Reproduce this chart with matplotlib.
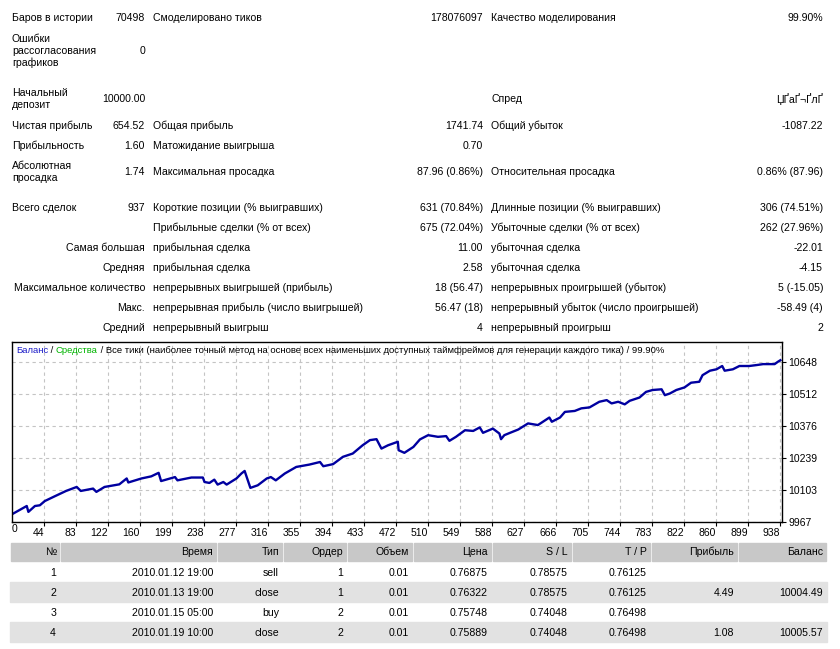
import numpy as np
import matplotlib.pyplot as plt
from matplotlib.patches import Rectangle

plt.rcParams['font.family'] = ['Liberation Sans', 'DejaVu Sans']

# ---- summary block ----
row_y = [18, 51, 99, 126, 146, 172, 208, 228, 248, 268, 288, 308, 328]

col1_labels = ["Баров в истории", "Ошибки\nрассогласования\nграфиков", "Начальный\nдепозит",
               "Чистая прибыль", "Прибыльность", "Абсолютная\nпросадка", "Всего сделок", "",
               "Самая большая", "Средняя", "Максимальное количество", "Макс.", "Средний"]
col1_values = ["70498", "0", "10000.00", "654.52", "1.60", "1.74", "937", "", "", "", "", "", ""]
col2_labels = ["Смоделировано тиков", "", "", "Общая прибыль", "Матожидание выигрыша",
               "Максимальная просадка", "Короткие позиции (% выигравших)",
               "Прибыльные сделки (% от всех)", "прибыльная сделка", "прибыльная сделка",
               "непрерывных выигрышей (прибыль)", "непрерывная прибыль (число выигрышей)",
               "непрерывный выигрыш"]
col2_values = ["178076097", "", "", "1741.74", "0.70", "87.96 (0.86%)", "631 (70.84%)",
               "675 (72.04%)", "11.00", "2.58", "18 (56.47)", "56.47 (18)", "4"]
col3_labels = ["Качество моделирования", "", "Спред", "Общий убыток", "",
               "Относительная просадка", "Длинные позиции (% выигравших)",
               "Убыточные сделки (% от всех)", "убыточная сделка", "убыточная сделка",
               "непрерывных проигрышей (убыток)", "непрерывный убыток (число проигрышей)",
               "непрерывный проигрыш"]
col3_values = ["99.90%", "", "ЏҐаҐ¬ҐлҐ", "-1087.22", "", "0.86% (87.96)", "306 (74.51%)",
               "262 (27.96%)", "-22.01", "-4.15", "5 (-15.05)", "-58.49 (4)", "2"]

# ---- balance curve (trade number, balance) ----
trade_no = [0, 18, 20, 28, 34, 40, 52, 66, 79, 84, 99, 103, 113, 131, 140, 142, 158, 170,
            179, 182, 199, 202, 219, 233, 235, 241, 247, 251, 258, 262, 274, 280, 284, 291,
            300, 311, 316, 322, 333, 347, 363, 376, 380, 392, 404, 416, 428, 437, 445, 451,
            459, 471, 472, 479, 490, 498, 508, 520, 530, 534, 542, 553, 563, 571, 575, 587,
            595, 597, 601, 608, 618, 630, 642, 656, 659, 669, 675, 687, 695, 705, 717, 726,
            732, 740, 748, 754, 766, 774, 782, 793, 797, 803, 811, 821, 829, 839, 843, 852,
            860, 867, 870, 880, 888, 900, 909, 917, 931, 935, 938]
balance = [10000, 10035, 10010, 10035, 10038, 10056, 10076, 10099, 10116, 10099, 10109,
           10095, 10116, 10127, 10152, 10135, 10152, 10161, 10176, 10141, 10158, 10144,
           10156, 10156, 10137, 10133, 10147, 10126, 10137, 10126, 10152, 10173, 10184,
           10112, 10123, 10152, 10158, 10144, 10173, 10201, 10211, 10222, 10204, 10213,
           10244, 10258, 10293, 10315, 10319, 10279, 10293, 10308, 10272, 10261, 10286,
           10318, 10336, 10329, 10332, 10312, 10329, 10357, 10354, 10369, 10346, 10364,
           10343, 10319, 10336, 10346, 10360, 10386, 10379, 10411, 10393, 10411, 10435,
           10439, 10450, 10454, 10478, 10485, 10471, 10478, 10467, 10482, 10496, 10520,
           10528, 10531, 10506, 10513, 10528, 10539, 10559, 10563, 10591, 10610, 10616,
           10630, 10610, 10616, 10630, 10630, 10634, 10638, 10638, 10648, 10654.52]

xtick_labels = ["44", "83", "122", "160", "199", "238", "277", "316", "355", "394", "433",
                "472", "510", "549", "588", "627", "666", "705", "744", "783", "822", "860",
                "899", "938"]
ytick_vals = [9967, 10103, 10239, 10376, 10512, 10648]

# ---- trades table ----
tbl_cols = ["№", "Время", "Тип", "Ордер", "Объем", "Цена", "S / L", "T / P", "Прибыль", "Баланс"]
tbl_rows = [
    ["1", "2010.01.12 19:00", "sell", "1", "0.01", "0.76875", "0.78575", "0.76125", "", ""],
    ["2", "2010.01.13 19:00", "close", "1", "0.01", "0.76322", "0.78575", "0.76125", "4.49", "10004.49"],
    ["3", "2010.01.15 05:00", "buy", "2", "0.01", "0.75748", "0.74048", "0.76498", "", ""],
    ["4", "2010.01.19 10:00", "close", "2", "0.01", "0.75889", "0.74048", "0.76498", "1.08", "10005.57"],
]

W, H = 840, 649
fig = plt.figure(figsize=(8.4, 6.49), dpi=100)


def fx(x):
    return x / W


def fy(y):
    return 1 - y / H


def put(x, y, s, ha='left', size=7.6, **kw):
    if s:
        fig.text(fx(x), fy(y), s, ha=ha, va='center', fontsize=size, **kw)


for i, y in enumerate(row_y):
    put(145 if i >= 8 else 12, y, col1_labels[i], ha='right' if i >= 8 else 'left')
    put(145, y, col1_values[i], ha='right')
    put(153, y, col2_labels[i])
    put(483, y, col2_values[i], ha='right')
    put(491, y, col3_labels[i])
    put(823, y, col3_values[i], ha='right')

# ---- chart ----
ax = fig.add_axes([fx(12), fy(522), 770 / W, 180 / H])
ax.plot(trade_no, balance, color='#0000A0', lw=1.7)
ax.set_xlim(0, 940)
ax.set_ylim(9967, 10732)
ax.yaxis.tick_right()
ax.set_yticks(ytick_vals)
ax.set_yticklabels([str(v) for v in ytick_vals], fontsize=7.5)
ax.set_xticks(np.arange(1, 25) * 938 / 24)
ax.set_xticklabels(xtick_labels, fontsize=7.5, ha='right')
ax.tick_params(axis='both', length=3, width=0.8, pad=1.5)
ax.grid(True, ls=(0, (3, 3)), color='#C4C4C4', lw=0.8)
for s in ax.spines.values():
    s.set_linewidth(1)
put(12, 529, "0", size=7.5)

t1 = ax.text(0.005, 0.955, "Баланс", transform=ax.transAxes, fontsize=6.8,
             color='#1C1CC8', va='center', ha='left')
t2 = ax.annotate(" / ", xy=(1, 0), xycoords=t1, va='bottom', fontsize=6.8, color='black')
t3 = ax.annotate("Средства", xy=(1, 0), xycoords=t2, va='bottom', fontsize=6.8, color='#00B400')
ax.annotate(" / Все тики (наиболее точный метод на основе всех наименьших доступных таймфреймов "
            "для генерации каждого тика) / 99.90%", xy=(1, 0), xycoords=t3, va='bottom',
            fontsize=6.8, color='black')

# ---- trades table ----
edges = [10, 60, 217, 283, 347, 413, 492, 572, 651, 738, 827]
for j in range(len(tbl_cols)):
    fig.patches.append(Rectangle((fx(edges[j] + 1), fy(561)), (edges[j + 1] - edges[j] - 2) / W,
                                 18 / H, transform=fig.transFigure, color='#C8C8C8', zorder=-1))
    put(edges[j + 1] - 4, 552, tbl_cols[j], ha='right')
for i, row in enumerate(tbl_rows):
    yc = 571.5 + 20 * i
    if i % 2 == 1:
        fig.patches.append(Rectangle((fx(10), fy(yc + 10)), 817 / W, 20 / H,
                                     transform=fig.transFigure, color='#E2E2E2', zorder=-1))
    for j, s in enumerate(row):
        put(edges[j + 1] - 4, yc + 1, s, ha='right')

fig.savefig('out.png', dpi=100)
